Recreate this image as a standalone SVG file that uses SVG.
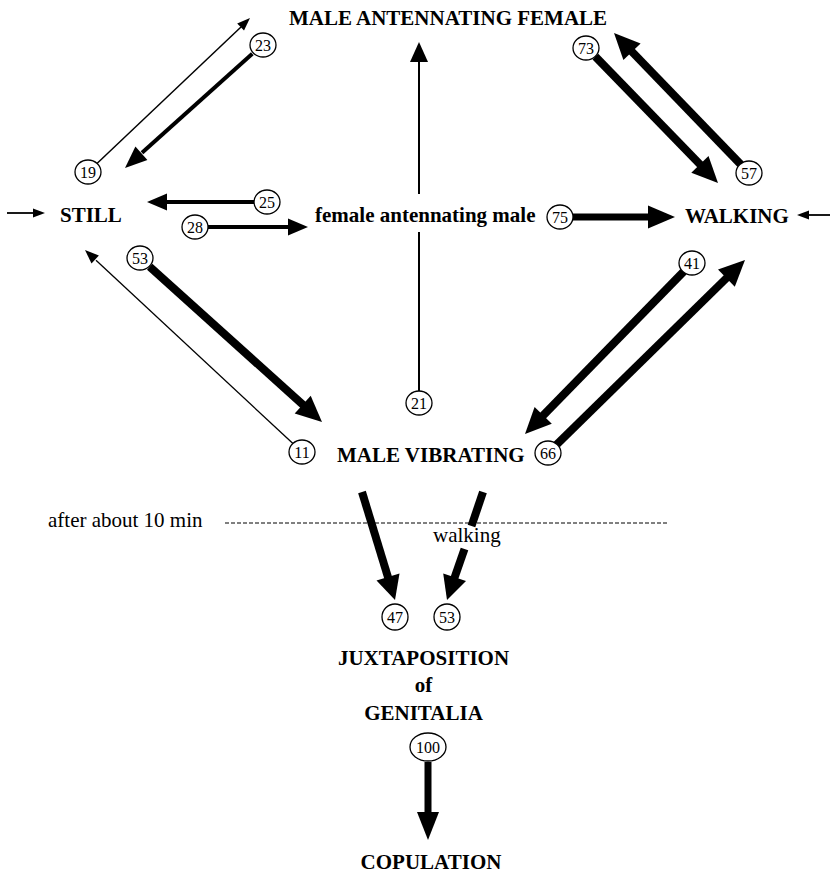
<svg xmlns="http://www.w3.org/2000/svg" width="830" height="876" viewBox="0 0 830 876">
<style>
.b{font-family:"Liberation Serif","Times New Roman",serif;font-weight:bold;font-size:21px;fill:#000}
.r{font-family:"Liberation Serif","Times New Roman",serif;font-size:21px;fill:#000}
.n{font-family:"Liberation Serif","Times New Roman",serif;font-size:16px;fill:#000;text-anchor:middle}
.c{fill:#fff;stroke:#000;stroke-width:1.3}
.l{stroke:#000;fill:none}
.h{fill:#000;stroke:none}
</style>
<rect width="830" height="876" fill="#fff"/>
<g id="connectors">
  <!-- 19 -> MALE ANTENNATING FEMALE -->
  <line class="l" x1="96.7" y1="163.7" x2="241" y2="27" stroke-width="1.5"/>
  <polygon class="h" points="250,18 244,30.6 237.2,23.4"/>
  <!-- 23 -> STILL -->
  <line class="l" x1="252.3" y1="53.7" x2="142" y2="152.8" stroke-width="4"/>
  <polygon class="h" points="125,168 147.4,160 135.4,146.6"/>
  <!-- 25 -> STILL -->
  <line class="l" x1="254" y1="202" x2="166" y2="202" stroke-width="4"/>
  <polygon class="h" points="147,202 167,193.5 167,210.5"/>
  <!-- 28 -> female antennating male -->
  <line class="l" x1="208" y1="227" x2="289" y2="227" stroke-width="4"/>
  <polygon class="h" points="308,227 288,218.5 288,235.5"/>
  <!-- 53 -> MALE VIBRATING -->
  <line class="l" x1="149.7" y1="266.7" x2="303.5" y2="405.3" stroke-width="8"/>
  <polygon class="h" points="322,422 294.7,413.5 310.7,395.7"/>
  <!-- 11 -> STILL -->
  <line class="l" x1="293.2" y1="443.8" x2="96" y2="260.2" stroke-width="1.3"/>
  <polygon class="h" points="85,250 98.9,255.5 91.5,263.5"/>
  <!-- entry to STILL -->
  <line class="l" x1="7" y1="213" x2="34" y2="213" stroke-width="1.8"/>
  <polygon class="h" points="45,213 33,208.5 33,217.5"/>
  <!-- 21 -> MALE ANTENNATING FEMALE -->
  <line class="l" x1="419" y1="391" x2="419" y2="232" stroke-width="2"/>
  <line class="l" x1="419" y1="194" x2="419" y2="61" stroke-width="2"/>
  <polygon class="h" points="419,42 410,62 428,62"/>
  <!-- 73 -> WALKING -->
  <line class="l" x1="595.4" y1="56.6" x2="700.6" y2="165" stroke-width="8"/>
  <polygon class="h" points="718,183 691.3,172.7 708.5,155.9"/>
  <!-- 57 -> MALE ANTENNATING FEMALE -->
  <line class="l" x1="740.7" y1="164.4" x2="631.3" y2="51" stroke-width="8"/>
  <polygon class="h" points="614,33 640.6,43.4 623.4,60"/>
  <!-- 75 -> WALKING -->
  <line class="l" x1="573" y1="217" x2="649" y2="217" stroke-width="7"/>
  <polygon class="h" points="675,217 648,205.5 648,228.5"/>
  <!-- entry to WALKING -->
  <line class="l" x1="830" y1="215" x2="808" y2="215" stroke-width="1.8"/>
  <polygon class="h" points="797,215 809,210.5 809,219.5"/>
  <!-- 41 -> MALE VIBRATING -->
  <line class="l" x1="683.6" y1="271.6" x2="542.5" y2="416.1" stroke-width="8"/>
  <polygon class="h" points="525,434 551.8,423.8 534.6,407"/>
  <!-- 66 -> WALKING -->
  <line class="l" x1="556.6" y1="444.6" x2="727.1" y2="277.5" stroke-width="8"/>
  <polygon class="h" points="745,260 734.8,286.8 718,269.6"/>
  <!-- dashed time line -->
  <line class="l" x1="225" y1="523" x2="667" y2="523" stroke-width="1" stroke-dasharray="4 2"/>
  <!-- MALE VIBRATING -> 47 -->
  <line class="l" x1="362" y1="492" x2="388.2" y2="577.8" stroke-width="8"/>
  <polygon class="h" points="395,600 376.5,580.6 399.5,573.6"/>
  <!-- MALE VIBRATING -> 53 (walking) -->
  <line class="l" x1="483" y1="492" x2="471.5" y2="526" stroke-width="8"/>
  <line class="l" x1="464.5" y1="549" x2="454.4" y2="578" stroke-width="8"/>
  <polygon class="h" points="447,600 466,581 443.2,573.4"/>
  <!-- 100 -> COPULATION -->
  <line class="l" x1="428" y1="762" x2="428" y2="813" stroke-width="7"/>
  <polygon class="h" points="428,840 417,812 439,812"/>
</g>
<g id="node-maf"><text class="b" x="448" y="25" text-anchor="middle">MALE ANTENNATING FEMALE</text></g>
<g id="node-still"><text class="b" x="60" y="222">STILL</text></g>
<g id="node-fam"><text class="b" x="315" y="222">female antennating male</text></g>
<g id="node-walking"><text class="b" x="685" y="223">WALKING</text></g>
<g id="node-mv"><text class="b" x="337" y="462">MALE VIBRATING</text></g>
<g id="node-jux">
  <text class="b" x="423.5" y="665" text-anchor="middle">JUXTAPOSITION</text>
  <text class="b" x="423.5" y="692" text-anchor="middle">of</text>
  <text class="b" x="423.5" y="720" text-anchor="middle">GENITALIA</text>
</g>
<g id="node-cop"><text class="b" x="431" y="869" text-anchor="middle">COPULATION</text></g>
<g id="labels">
  <text class="r" x="48" y="527">after about 10 min</text>
  <text class="r" x="433" y="542">walking</text>
</g>
<g id="counts">
  <ellipse class="c" cx="263" cy="45" rx="13" ry="12"/><text class="n" x="263" y="50.5">23</text>
  <ellipse class="c" cx="88" cy="172" rx="13" ry="12"/><text class="n" x="88" y="177.5">19</text>
  <ellipse class="c" cx="267" cy="202" rx="13" ry="12"/><text class="n" x="267" y="207.5">25</text>
  <ellipse class="c" cx="195" cy="227" rx="13" ry="12"/><text class="n" x="195" y="232.5">28</text>
  <ellipse class="c" cx="140" cy="258" rx="13" ry="12"/><text class="n" x="140" y="263.5">53</text>
  <ellipse class="c" cx="586" cy="48" rx="13" ry="12"/><text class="n" x="586" y="53.5">73</text>
  <ellipse class="c" cx="749" cy="173" rx="13" ry="12"/><text class="n" x="749" y="178.5">57</text>
  <ellipse class="c" cx="560" cy="217" rx="13" ry="12"/><text class="n" x="560" y="222.5">75</text>
  <ellipse class="c" cx="692" cy="263" rx="13" ry="12"/><text class="n" x="692" y="268.5">41</text>
  <ellipse class="c" cx="419" cy="403" rx="13" ry="12"/><text class="n" x="419" y="408.5">21</text>
  <ellipse class="c" cx="302" cy="452" rx="13" ry="12"/><text class="n" x="302" y="457.5">11</text>
  <ellipse class="c" cx="548" cy="453" rx="13" ry="12"/><text class="n" x="548" y="458.5">66</text>
  <ellipse class="c" cx="395" cy="617" rx="13" ry="13"/><text class="n" x="395" y="622.5">47</text>
  <ellipse class="c" cx="447" cy="617" rx="13" ry="13"/><text class="n" x="447" y="622.5">53</text>
  <ellipse class="c" cx="428" cy="747" rx="18" ry="14"/><text class="n" x="428" y="752.5">100</text>
</g>
</svg>
